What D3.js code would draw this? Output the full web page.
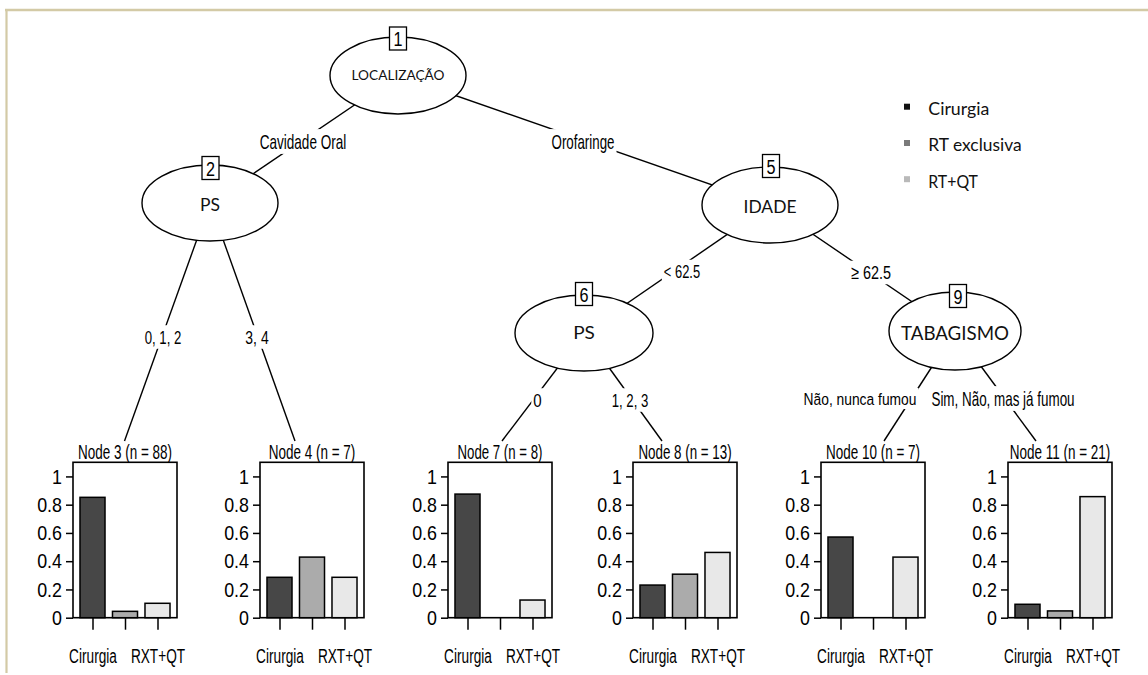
<!DOCTYPE html>
<html><head><meta charset="utf-8">
<script src="https://cdn.jsdelivr.net/npm/d3@7"></script>
<style>body{margin:0;background:#fff} svg{display:block}</style>
</head><body><svg id="c" width="1148" height="675"></svg>
<script>
// ---------------- DATA ----------------
const innerIds = [1, 2, 5, 6, 9];
const innerVars = ["LOCALIZAÇÃO", "PS", "IDADE", "PS", "TABAGISMO"];
const terminalIds = [3, 4, 7, 8, 10, 11];
const terminalN = [88, 7, 8, 13, 7, 21];
const categories = ["Cirurgia", "RXT", "RXT+QT"];
const shownCategoryLabels = ["Cirurgia", "", "RXT+QT"];
const cirurgiaShare    = [0.852, 0.286, 0.875, 0.231, 0.571, 0.095];
const rtExclusivaShare = [0.045, 0.429, 0.000, 0.308, 0.000, 0.048];
const rtQtShare        = [0.102, 0.286, 0.125, 0.462, 0.429, 0.857];
const edgeParents  = [1, 1, 2, 2, 5, 5, 6, 6, 9, 9];
const edgeChildren = [2, 5, 3, 4, 6, 9, 7, 8, 10, 11];
const edgeLabels = ["Cavidade Oral", "Orofaringe", "0, 1, 2", "3, 4", "< 62.5", "≥ 62.5",
                    "0", "1, 2, 3", "Não, nunca fumou", "Sim, Não, mas já fumou"];
const yTicks = [0, 0.2, 0.4, 0.6, 0.8, 1];
const legendLabels = ["Cirurgia", "RT exclusiva", "RT+QT"];

// ---------------- LAYOUT / STYLE ----------------
const innerPos = {1:[398,75.5,68,38.5], 2:[210,203,68,38], 5:[770,205,68,38], 6:[584,333,69,38], 9:[955,331,66,39]};
const innerText = {1:[80.5,14,93], 2:[211,17,20], 5:[213.3,18,53], 6:[339,17,21.7], 9:[340,20,108]}; // baseline, size, width
const idBoxPos = {1:[398,38.5], 2:[210.5,168], 5:[771,166], 6:[584,294], 9:[958,296]};
const panelCenter = {3:125, 4:312, 7:500, 8:685, 10:873, 11:1060};
const panelLabelW = {3:94, 4:86.7, 7:85, 8:93.3, 10:94, 11:100.7};
const edgeEnd = {3:[124.5,441], 4:[295,441], 7:[502,441], 8:[662,441], 10:[884,441], 11:[1036,441]};
const labelPos = [[303,141.5],[583,141.5],[163,337],[257,337],[682,271.5],[871,272.5],[537.5,400],[630,400],[860,398.5],[1003,398.5]];
const labelFont = [[20,86.7],[20,63],[19,36.7],[19,23.3],[19,36.3],[19,40],[19,8.4],[19,36.7],[17,113],[20,143.3]];
const barFill = ["#474747", "#ababab", "#e8e8e8"];
const legendFill = ["#111111", "#7a7a7a", "#b9b9b9"];
const SANS = "'Liberation Sans', Arial, sans-serif";
const HUM = "Lato, 'Open Sans', sans-serif";

const svg = d3.select("#c");
svg.append("rect").attr("width",1148).attr("height",675).attr("fill","#fff");
// frame lines (tan)
svg.append("line").attr("x1",5).attr("x2",1148).attr("y1",10).attr("y2",10).attr("stroke","#d3caa6").attr("stroke-width",2.5);
svg.append("line").attr("x1",6.5).attr("x2",6.5).attr("y1",9).attr("y2",673).attr("stroke","#d3caa6").attr("stroke-width",2.2);

// horizontal condensing via transform (keeps real bounding boxes)
function squeeze(sel, f){
  sel.each(function(){
    const t = d3.select(this);
    const X = +t.attr("x") || 0;
    t.attr("x", 0).attr("transform", `translate(${X},0) scale(${f},1)`);
  });
  return sel;
}
function fit(sel, w){
  sel.each(function(){
    const L = this.getComputedTextLength();
    squeeze(d3.select(this), w / L);
  });
  return sel;
}

const center = id => innerPos[id] ? [innerPos[id][0], innerPos[id][1]] : edgeEnd[id];

// edges
const gEdges = svg.append("g");
edgeParents.forEach((p,i)=>{
  const a = center(p), b = center(edgeChildren[i]);
  gEdges.append("line").attr("x1",a[0]).attr("y1",a[1]).attr("x2",b[0]).attr("y2",b[1])
    .attr("stroke","#000").attr("stroke-width",1.4);
});
// edge labels with white background
edgeLabels.forEach((t,i)=>{
  const [lx,ly] = labelPos[i], [fs,w] = labelFont[i];
  const g = svg.append("g");
  g.append("rect").attr("fill","#fff").attr("x",lx-w/2-2).attr("width",w+4).attr("y",ly-fs*0.62).attr("height",fs*1.24);
  fit(g.append("text").attr("x",lx).attr("y",ly + fs*0.36).attr("text-anchor","middle")
    .attr("font-family",SANS).attr("font-size",fs).attr("fill","#000").text(t), w);
});
// inner nodes
innerIds.forEach((id,i)=>{
  const [cx,cy,rx,ry] = innerPos[id];
  svg.append("ellipse").attr("cx",cx).attr("cy",cy).attr("rx",rx).attr("ry",ry)
    .attr("fill","#fff").attr("stroke","#000").attr("stroke-width",1.4);
  const [bl,fs,w] = innerText[id];
  fit(svg.append("text").attr("x",cx).attr("y",bl).attr("text-anchor","middle")
    .attr("font-family",HUM).attr("font-size",fs).attr("fill","#111").text(innerVars[i]), w);
  const [bx,by] = idBoxPos[id];
  svg.append("rect").attr("x",bx-8.5).attr("y",by-11.5).attr("width",17).attr("height",23)
    .attr("fill","#fff").attr("stroke","#000").attr("stroke-width",1.3);
  fit(svg.append("text").attr("x",bx).attr("y",by+8).attr("text-anchor","middle")
    .attr("font-family",SANS).attr("font-size",21).text(id), 9);
});

// terminal panels
const y = d3.scaleLinear().domain([0, 1.1]).range([617.7, 462.3]);
terminalIds.forEach((id,i)=>{
  const cx = panelCenter[id];
  const x = d3.scaleLinear().domain([0.4, 3.6]).range([cx-52, cx+52]);
  const g = svg.append("g");
  const vals = [cirurgiaShare[i], rtExclusivaShare[i], rtQtShare[i]];
  fit(g.append("text").attr("x",cx).attr("y",459.3).attr("text-anchor","middle")
    .attr("font-family",SANS).attr("font-size",20).text(`Node ${id} (n = ${terminalN[i]})`), panelLabelW[id]);
  g.append("rect").attr("x",x(0.4)).attr("y",y(1.1)).attr("width",x(3.6)-x(0.4)).attr("height",y(0)-y(1.1))
    .attr("fill","#fff").attr("stroke","#000").attr("stroke-width",1.6);
  const bw = x(1.385) - x(0.615);
  g.selectAll("rect.bar").data(vals.map((v,j)=>({v,j,c:categories[j]})).filter(d=>d.v>0)).join("rect")
    .attr("class","bar").attr("x",d=>x(d.j+1)-bw/2).attr("width",bw)
    .attr("y",d=>y(d.v)).attr("height",d=>y(0)-y(d.v))
    .attr("fill",d=>barFill[d.j]).attr("stroke","#000").attr("stroke-width",1.5);
  const ya = g.append("g").attr("transform",`translate(${x(0.4)},0)`)
    .call(d3.axisLeft(y).tickValues(yTicks).tickSize(7).tickPadding(4).tickFormat(d3.format("~g")));
  ya.select(".domain").remove();
  ya.selectAll("line").attr("stroke","#000").attr("stroke-width",1.5);
  ya.selectAll("text").attr("font-family",SANS).attr("font-size",21).attr("fill","#000");
  squeeze(ya.selectAll("text"), 0.85);
  const xa = g.append("g").attr("transform",`translate(0,${y(0)})`)
    .call(d3.axisBottom(x).tickValues([1,2,3]).tickSize(12).tickPadding(18).tickFormat((d,j)=>shownCategoryLabels[j]));
  xa.select(".domain").remove();
  xa.selectAll("line").attr("stroke","#000").attr("stroke-width",1.5);
  xa.selectAll("text").filter(function(){ return this.textContent === ""; }).remove();
  xa.selectAll("text").attr("font-family",SANS).attr("font-size",21).attr("fill","#000");
  squeeze(xa.selectAll("text"), 0.65);
});

// legend
legendLabels.forEach((t,i)=>{
  const ly = [106.7, 143, 179.2][i];
  svg.append("rect").attr("x",904).attr("y",ly-3).attr("width",6).attr("height",6).attr("fill",legendFill[i]);
  fit(svg.append("text").attr("x",928.3).attr("y",ly+8.5).attr("font-family",HUM).attr("font-size",16.5)
    .attr("fill","#111").text(t), [61,93.4,49.7][i]);
});
</script></body></html>
